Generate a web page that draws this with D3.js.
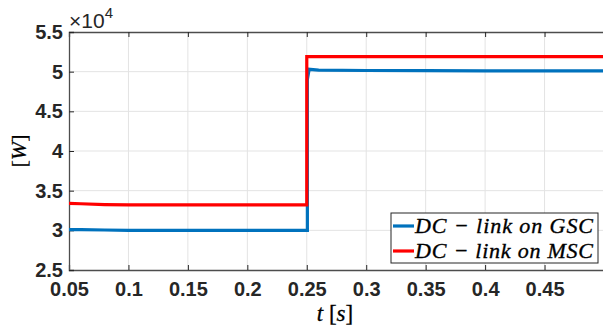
<!DOCTYPE html>
<html>
<head>
<meta charset="utf-8">
<script src="https://cdn.jsdelivr.net/npm/d3@7"></script>
<style>
  body { margin: 0; background: #fff; }
  svg { display: block; }
</style>
</head>
<body>
<svg id="chart" width="603" height="327"></svg>
<script>
// time [s]
var tGSC = [0.05, 0.06, 0.08, 0.1, 0.15, 0.2, 0.2505, 0.2505, 0.252, 0.26, 0.3, 0.35, 0.4, 0.45, 0.5];
var pGSC = [3.01, 3.008, 3.004, 3.0, 3.0, 3.0, 3.0, 4.9, 5.03, 5.02, 5.015, 5.012, 5.01, 5.01, 5.01];
var tMSC = [0.05, 0.06, 0.08, 0.1, 0.15, 0.2, 0.25, 0.25, 0.26, 0.3, 0.35, 0.4, 0.45, 0.5];
var pMSC = [3.34, 3.335, 3.325, 3.32, 3.32, 3.32, 3.32, 5.19, 5.19, 5.19, 5.19, 5.19, 5.19, 5.19];

var xTicks = [0.05, 0.1, 0.15, 0.2, 0.25, 0.3, 0.35, 0.4, 0.45];
var yTicks = [2.5, 3, 3.5, 4, 4.5, 5, 5.5];
var legendLabels = ['DC \u2212 link on GSC', 'DC \u2212 link on MSC'];
var colors = ['#0072BD', '#FF0000'];

var plotL = 69, plotT = 32, plotR = 604, plotB = 270;

var svg = d3.select('#chart');

var x = d3.scaleLinear().domain([0.05, 0.5]).range([plotL, plotR]);
var y = d3.scaleLinear().domain([2.5, 5.5]).range([plotB, plotT]);

// grid
svg.append('g').selectAll('line')
  .data(xTicks.slice(1))
  .enter().append('line')
  .attr('x1', function(d) { return x(d); })
  .attr('x2', function(d) { return x(d); })
  .attr('y1', plotT).attr('y2', plotB)
  .attr('stroke', '#e3e3e3').attr('stroke-width', 1);

svg.append('g').selectAll('line')
  .data(yTicks.slice(1, -1))
  .enter().append('line')
  .attr('x1', plotL).attr('x2', plotR)
  .attr('y1', function(d) { return y(d); })
  .attr('y2', function(d) { return y(d); })
  .attr('stroke', '#e3e3e3').attr('stroke-width', 1);

// axes
var xAxis = d3.axisBottom(x).tickValues(xTicks).tickSize(-5).tickPadding(12)
  .tickFormat(function(d) { return String(+d.toFixed(2)); });
var xTop = d3.axisTop(x).tickValues(xTicks).tickSize(-5).tickFormat('');
var yAxis = d3.axisLeft(y).tickValues(yTicks).tickSize(-5).tickPadding(6)
  .tickFormat(function(d) { return String(d); });

function styleAxis(g) {
  g.select('.domain').attr('stroke', '#4d4d4d').attr('stroke-width', 1.3);
  g.selectAll('.tick line').attr('stroke', '#262626').attr('stroke-width', 1);
  g.selectAll('text')
    .attr('font-family', 'Liberation Sans, Arial, sans-serif')
    .attr('font-weight', 'bold')
    .attr('font-size', 20)
    .attr('fill', '#262626');
}

svg.append('g').attr('transform', 'translate(0,' + plotB + ')').call(xAxis).call(styleAxis);
svg.append('g').attr('transform', 'translate(0,' + plotT + ')').call(xTop).call(styleAxis);
svg.append('g').attr('transform', 'translate(' + plotL + ',0)').call(yAxis).call(styleAxis);

// lines
var line = d3.line()
  .x(function(d) { return x(d[0]); })
  .y(function(d) { return y(d[1]); });

var series = [d3.zip(tGSC, pGSC), d3.zip(tMSC, pMSC)];

svg.append('defs').append('clipPath').attr('id', 'clip')
  .append('rect').attr('x', plotL).attr('y', plotT).attr('width', plotR - plotL).attr('height', plotB - plotT);

svg.append('g').attr('clip-path', 'url(#clip)')
  .selectAll('path')
  .data(series)
  .enter().append('path')
  .attr('d', line)
  .attr('fill', 'none')
  .attr('stroke', function(d, i) { return colors[i]; })
  .attr('stroke-width', 3.2);

// exponent label
var ex = svg.append('text')
  .attr('x', 69).attr('y', 28)
  .attr('font-family', 'Liberation Sans, Arial, sans-serif')
  .attr('font-size', 21)
  .attr('fill', '#262626');
ex.append('tspan').text('\u00d710');
ex.append('tspan').attr('dy', -10).attr('font-size', 15).text('4');

// axis labels
var yl = svg.append('text')
  .attr('transform', 'translate(26,151) rotate(-90)')
  .attr('text-anchor', 'middle')
  .attr('font-family', 'Liberation Serif, Times New Roman, serif')
  .attr('font-size', 22)
  .attr('stroke', '#000').attr('stroke-width', 0.3)
  .attr('fill', '#000');
yl.append('tspan').text('[');
yl.append('tspan').attr('font-style', 'italic').text('W');
yl.append('tspan').text(']');

var xl = svg.append('text')
  .attr('x', 335).attr('y', 321)
  .attr('text-anchor', 'middle')
  .attr('font-family', 'Liberation Serif, Times New Roman, serif')
  .attr('font-size', 23)
  .attr('stroke', '#000').attr('stroke-width', 0.3)
  .attr('fill', '#000');
xl.append('tspan').attr('font-style', 'italic').text('t');
xl.append('tspan').text(' [');
xl.append('tspan').attr('font-style', 'italic').text('s');
xl.append('tspan').text(']');

// legend
var lg = svg.append('g').attr('transform', 'translate(391,213)');
lg.append('rect')
  .attr('width', 207).attr('height', 50)
  .attr('fill', '#fff').attr('stroke', '#262626').attr('stroke-width', 1);

var items = lg.selectAll('g.item')
  .data(legendLabels)
  .enter().append('g')
  .attr('transform', function(d, i) { return 'translate(0,' + (13 + i * 25) + ')'; });

items.append('line')
  .attr('x1', 2).attr('x2', 23)
  .attr('stroke', function(d, i) { return colors[i]; })
  .attr('stroke-width', 3.2);

items.append('text')
  .attr('x', 24).attr('y', 7)
  .attr('font-family', 'Liberation Serif, Times New Roman, serif')
  .attr('font-style', 'italic')
  .attr('font-size', 22)
  .attr('textLength', 178)
  .attr('lengthAdjust', 'spacing')
  .attr('stroke', '#000').attr('stroke-width', 0.35)
  .attr('fill', '#000')
  .text(function(d) { return d; });
</script>
</body>
</html>
